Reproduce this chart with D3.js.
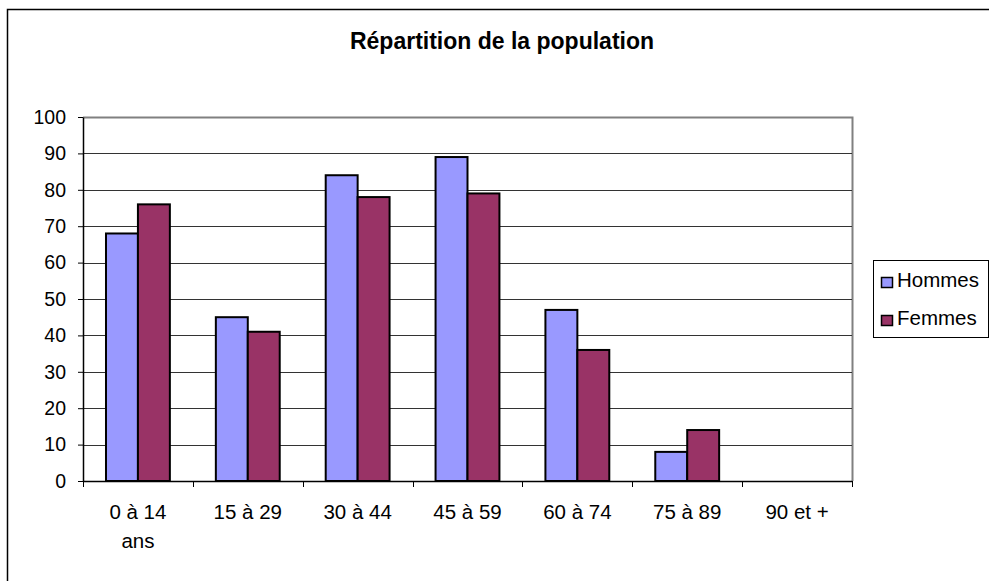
<!DOCTYPE html>
<html>
<head>
<meta charset="utf-8">
<script src="https://cdn.jsdelivr.net/npm/d3@7"></script>
<style>
  body { margin: 0; background: #fff; }
  text { font-family: "Liberation Sans", Arial, sans-serif; }
</style>
</head>
<body>
<div id="chart"></div>
<script>
// chart data
const categories = ["0 à 14 ans", "15 à 29", "30 à 44", "45 à 59", "60 à 74", "75 à 89", "90 et +"];
const hommes = [68, 45, 84, 89, 47, 8, 0];
const femmes = [76, 41, 78, 79, 36, 14, 0];
const seriesNames = ["Hommes", "Femmes"];
const yTicks = [0, 10, 20, 30, 40, 50, 60, 70, 80, 90, 100];

const WIDTH = 989, HEIGHT = 581;
const PLOT = { left: 83, right: 852, top: 117, bottom: 481 };
const COLORS = ["#9999ff", "#993366"];
const FONT = "'Liberation Sans', Arial, sans-serif";

const svg = d3.select("#chart").append("svg")
  .attr("width", WIDTH)
  .attr("height", HEIGHT);

// outer chart border (runs off the right / bottom edge)
svg.append("rect")
  .attr("x", 7.5).attr("y", 9.5)
  .attr("width", 1000).attr("height", 600)
  .attr("fill", "#fff")
  .attr("stroke", "#000")
  .attr("stroke-width", 1.5);

// title
svg.append("text")
  .attr("x", 502).attr("y", 49)
  .attr("text-anchor", "middle")
  .style("font-size", "23px")
  .style("font-weight", "bold")
  .text("Répartition de la population");

const x = d3.scaleBand()
  .domain(categories)
  .range([PLOT.left, PLOT.right]);

const xInner = d3.scaleBand()
  .domain(seriesNames)
  .range([0, x.bandwidth()])
  .paddingOuter(0.72);

const y = d3.scaleLinear()
  .domain([0, 100])
  .range([PLOT.bottom, PLOT.top]);

// plot area border (top & right, gray)
svg.append("path")
  .attr("d", `M${PLOT.left},${PLOT.top + 0.5}H${PLOT.right + 0.5}V${PLOT.bottom}`)
  .attr("fill", "none")
  .attr("stroke", "#808080")
  .attr("stroke-width", 2);

// gridlines
svg.append("g")
  .selectAll("line")
  .data(yTicks.filter(d => d > 0 && d < 100))
  .join("line")
  .attr("x1", PLOT.left).attr("x2", PLOT.right)
  .attr("y1", d => Math.round(y(d)) + 0.5)
  .attr("y2", d => Math.round(y(d)) + 0.5)
  .attr("stroke", "#333")
  .attr("stroke-width", 1);

// bars
const data = categories.map((c, i) => ({ cat: c, values: [hommes[i], femmes[i]] }));

const groups = svg.append("g")
  .selectAll("g")
  .data(data)
  .join("g")
  .attr("transform", d => `translate(${x(d.cat)},0)`);

groups.selectAll("rect")
  .data(d => d.values.map((v, k) => ({ name: seriesNames[k], value: v, k: k })))
  .join("rect")
  .filter(d => d.value > 0)
  .attr("x", d => xInner(d.name))
  .attr("width", xInner.bandwidth())
  .attr("y", d => y(d.value))
  .attr("height", d => y(0) - y(d.value))
  .attr("fill", d => COLORS[d.k])
  .attr("stroke", "#000")
  .attr("stroke-width", 2);

// y axis
const yAxis = svg.append("g")
  .attr("transform", `translate(${PLOT.left},0)`)
  .call(d3.axisLeft(y).tickValues(yTicks).tickSize(5).tickSizeOuter(0));
yAxis.select(".domain").attr("stroke", "#000").attr("stroke-width", 1.5);
yAxis.selectAll(".tick line").attr("stroke", "#000");
yAxis.selectAll(".tick text")
  .attr("x", -17)
  .style("font-size", "19.5px")
  .style("font-family", FONT)
  .attr("fill", "#000");

// x axis
const xAxis = svg.append("g")
  .attr("transform", `translate(0,${PLOT.bottom})`)
  .call(d3.axisBottom(x).tickSize(0).tickSizeOuter(0));
xAxis.select(".domain").attr("stroke", "#000").attr("stroke-width", 1.5);
xAxis.selectAll(".tick text").remove();

// category boundary ticks
xAxis.append("g")
  .selectAll("line")
  .data(d3.range(categories.length + 1))
  .join("line")
  .attr("x1", i => Math.round(PLOT.left + i * x.step()) + 0.5)
  .attr("x2", i => Math.round(PLOT.left + i * x.step()) + 0.5)
  .attr("y1", 0).attr("y2", 6)
  .attr("stroke", "#000");

// category labels (wrap first one)
xAxis.selectAll(".tick").each(function(d) {
  const t = d3.select(this).append("text")
    .attr("fill", "#000")
    .attr("text-anchor", "middle")
    .style("font-size", "20.5px")
    .style("font-family", FONT);
  const lines = d === "0 à 14 ans" ? ["0 à 14", "ans"] : [d];
  lines.forEach((ln, j) => {
    t.append("tspan").attr("x", 0).attr("y", 38 + j * 29).text(ln);
  });
});

// legend
const legend = svg.append("g").attr("transform", "translate(873,260)");
legend.append("rect")
  .attr("x", 0.5).attr("y", 0.5)
  .attr("width", 115).attr("height", 77)
  .attr("fill", "#fff")
  .attr("stroke", "#000");

seriesNames.forEach((name, k) => {
  const row = legend.append("g").attr("transform", `translate(8,${22 + k * 38})`);
  row.append("rect")
    .attr("x", 0.5).attr("y", -4.5)
    .attr("width", 11).attr("height", 10)
    .attr("fill", COLORS[k])
    .attr("stroke", "#000")
    .attr("stroke-width", 1.5);
  row.append("text")
    .attr("x", 16).attr("y", 5)
    .style("font-size", "20.5px")
    .text(name);
});
</script>
</body>
</html>
